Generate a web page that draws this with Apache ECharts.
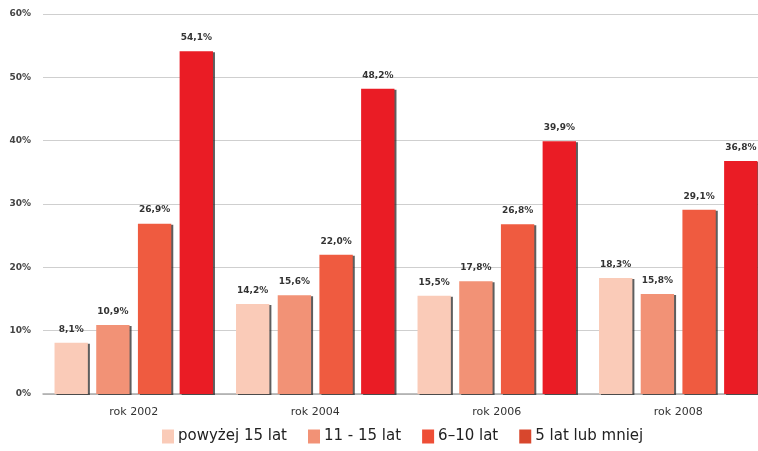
<!DOCTYPE html>
<html><head><meta charset="utf-8">
<script src="https://cdn.jsdelivr.net/npm/echarts@6/dist/echarts.min.js"></script>
<style>html,body{margin:0;padding:0;background:#fff}#c{width:758px;height:451px}</style>
</head><body><div id="c"></div>
<script>
var categories = ['rok 2002', 'rok 2004', 'rok 2006', 'rok 2008'];
var seriesNames = ['powyżej 15 lat', '11 - 15 lat', '6–10 lat', '5 lat lub mniej'];
var over15 = [8.1, 14.2, 15.5, 18.3];
var y11to15 = [10.9, 15.6, 17.8, 15.8];
var y6to10 = [26.9, 22.0, 26.8, 29.1];
var upTo5 = [54.1, 48.2, 39.9, 36.8];
var yTicks = [0, 10, 20, 30, 40, 50, 60];
var colors = ['#FACBB8', '#F29276', '#EF5B40', '#EA1C25'];
var legendColors = ['#FACBB8', '#F29276', '#EE4E36', '#D8472D'];
var values = [over15, y11to15, y6to10, upTo5];

var chart = echarts.init(document.getElementById('c'));
var fmt = function (v) { return v.toFixed(1).replace('.', ',') + '%'; };
chart.setOption({
  animation: false,
  grid: { left: 43, width: 726, top: 14, bottom: 57, containLabel: false, outerBoundsMode: 'none' },
  legend: {
    bottom: 2, left: 157, itemWidth: 12, itemHeight: 14, itemGap: 21,
    textStyle: { fontFamily: 'DejaVu Sans', fontSize: 15, color: '#222', padding: [0, 0, 0, -1] },
    data: seriesNames.map(function (n, i) { return { name: n, icon: 'rect', itemStyle: { color: legendColors[i] } }; })
  },
  xAxis: {
    type: 'category', data: categories,
    axisLine: { lineStyle: { color: '#aaa', width: 1.5 } },
    axisTick: { show: false },
    axisLabel: { fontFamily: 'DejaVu Sans', fontSize: 11, color: '#333', margin: 13 }
  },
  yAxis: {
    type: 'value', min: 0, max: 60, interval: 10,
    axisLine: { show: false }, axisTick: { show: false },
    axisLabel: { fontFamily: 'DejaVu Sans', fontSize: 9, fontWeight: 'bold', color: '#444', margin: 12,
      formatter: function (v) { return yTicks.indexOf(v) >= 0 ? v + '%' : ''; } },
    splitLine: { lineStyle: { color: '#cfcfcf', width: 1.2 } }
  },
  series: seriesNames.map(function (n, i) {
    return {
      name: n, type: 'bar', data: values[i],
      barGap: '25%', barCategoryGap: '12.7%',
      itemStyle: { color: colors[i], shadowColor: 'rgba(40,40,40,0.75)', shadowOffsetX: 2, shadowOffsetY: 1, shadowBlur: 0 },
      label: { show: true, position: 'top', distance: 9, fontFamily: 'DejaVu Sans', fontSize: 9, fontWeight: 'bold', color: '#333',
        formatter: function (p) { return fmt(p.value); } }
    };
  })
});
</script></body></html>
